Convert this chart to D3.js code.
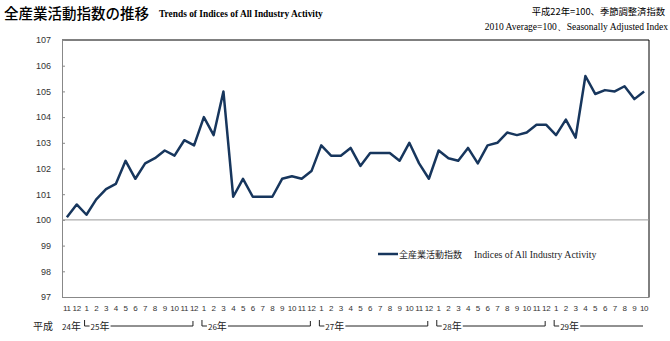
<!DOCTYPE html>
<html><head><meta charset="utf-8">
<script src="https://cdn.jsdelivr.net/npm/d3@7"></script>
<style>body{margin:0;background:#fff}svg{display:block}</style>
</head><body>
<svg id="c" width="670" height="341"></svg>
<script>
const months = ["11","12","1","2","3","4","5","6","7","8","9","10","11","12","1","2","3","4","5","6","7","8","9","10","11","12","1","2","3","4","5","6","7","8","9","10","11","12","1","2","3","4","5","6","7","8","9","10","11","12","1","2","3","4","5","6","7","8","9","10"];
const values = [100.1,100.6,100.2,100.8,101.2,101.4,102.3,101.6,102.2,102.4,102.7,102.5,103.1,102.9,
  104.0,103.3,105.0,100.9,101.6,100.9,100.9,100.9,101.6,101.7,101.6,101.9,
  102.9,102.5,102.5,102.8,102.1,102.6,102.6,102.6,102.3,103.0,102.2,101.6,
  102.7,102.4,102.3,102.8,102.2,102.9,103.0,103.4,103.3,103.4,103.7,103.7,
  103.3,103.9,103.2,105.6,104.9,105.05,105.0,105.2,104.7,105.0];
const yTicks = [97,98,99,100,101,102,103,104,105,106,107];
const eraLabel = "平成";
const firstYearLabel = "24";
const yearLabels = ["25","26","27","28","29"];
const yearStartIdx = [2,14,26,38,50];
const yearEndIdx = [13,25,37,49,59];

const svg = d3.select("#c");
const L = 62, R = 649, T = 40, B = 297;
const idx = values.map((d,i)=>i);
const x = d3.scaleBand().domain(idx).range([L,R]);
const y = d3.scaleLinear().domain([97,107]).range([B,T]);
const cx = i => x(i) + x.bandwidth()/2;

// title
svg.append("text").attr("x",4).attr("y",19).attr("font-family","Noto Sans CJK JP").attr("font-size",14.5).attr("font-weight",500).attr("fill","#000").text("全産業活動指数の推移");
svg.append("text").attr("x",159).attr("y",17).attr("font-family","Liberation Serif").attr("font-size",9.4).attr("font-weight","bold").attr("fill","#000").text("Trends of Indices of All Industry Activity");
svg.append("text").attr("x",665).attr("y",15).attr("text-anchor","end").attr("font-family","Noto Sans CJK JP").attr("font-size",9.3).attr("fill","#000").text("平成22年=100、季節調整済指数");
svg.append("text").attr("x",668).attr("y",30).attr("text-anchor","end").attr("font-family","Liberation Serif").attr("font-size",9.5).attr("fill","#000").text("2010 Average=100、Seasonally Adjusted Index");

// border top/right
svg.append("path").attr("d",`M${L},${T}H${R}V${B}`).attr("fill","none").attr("stroke","#000").attr("stroke-width",1);

// y axis
const ya = svg.append("g").attr("transform",`translate(${L},0)`)
  .call(d3.axisLeft(y).tickValues(yTicks).tickSize(-3).tickPadding(11).tickFormat(d3.format("d")));
ya.select(".domain").attr("stroke","#888");
ya.selectAll(".tick line").attr("stroke","#888");
ya.selectAll("text").attr("font-family","Liberation Sans").attr("font-size",9).attr("fill","#333");

// 100 line
svg.append("line").attr("x1",L).attr("x2",R).attr("y1",y(100)).attr("y2",y(100)).attr("stroke","#999").attr("stroke-width",1);

// x axis
const xa = svg.append("g").attr("transform",`translate(0,${B})`)
  .call(d3.axisBottom(x).tickSize(0).tickPadding(8).tickFormat(i=>months[i]));
xa.select(".domain").attr("stroke","#888");
xa.selectAll("text").attr("font-family","Liberation Sans").attr("font-size",8).attr("fill","#333").attr("letter-spacing",-0.3);

// year row
const yr = 330;
svg.append("text").attr("x",33).attr("y",yr).attr("font-family","Noto Sans CJK JP").attr("font-size",10).attr("fill","#222").text(eraLabel);
const g0 = svg.append("text").attr("x",62).attr("y",yr).attr("font-family","Noto Sans CJK JP").attr("fill","#222");
g0.append("tspan").attr("font-size",8).text(firstYearLabel);
g0.append("tspan").attr("font-size",10).text("年");
yearLabels.forEach((lab,k)=>{
  const xs = x(yearStartIdx[k]) + 3;
  const xe = x(yearEndIdx[k]) + x.bandwidth() - 6;
  const ly = 326;
  svg.append("path").attr("d",`M${xs},${ly-6}V${ly}H${xs+5}`).attr("fill","none").attr("stroke","#222").attr("stroke-width",1);
  const t = svg.append("text").attr("x",xs+6).attr("y",yr).attr("font-family","Noto Sans CJK JP").attr("fill","#222");
  t.append("tspan").attr("font-size",8).text(lab);
  t.append("tspan").attr("font-size",10).text("年");
  const tx = xs + 6 + 20;
  let d = `M${tx},${ly}H${xe}`;
  if (k < yearLabels.length-1) d += `V${ly-5}`;
  svg.append("path").attr("d",d).attr("fill","none").attr("stroke","#222").attr("stroke-width",1);
});

// line
const line = d3.line().x((d,i)=>cx(i)).y(d=>y(d));
svg.append("path").datum(values).attr("d",line).attr("fill","none").attr("stroke","#17365d").attr("stroke-width",2.5).attr("stroke-linejoin","round");

// legend
svg.append("line").attr("x1",378).attr("x2",398).attr("y1",254).attr("y2",254).attr("stroke","#17365d").attr("stroke-width",2.5);
svg.append("text").attr("x",399).attr("y",258).attr("font-family","Noto Sans CJK JP").attr("font-size",9).attr("fill","#222").text("全産業活動指数");
svg.append("text").attr("x",474).attr("y",258).attr("font-family","Liberation Serif").attr("font-size",9.8).attr("fill","#222").text("Indices of All Industry Activity");
</script>
</body></html>
